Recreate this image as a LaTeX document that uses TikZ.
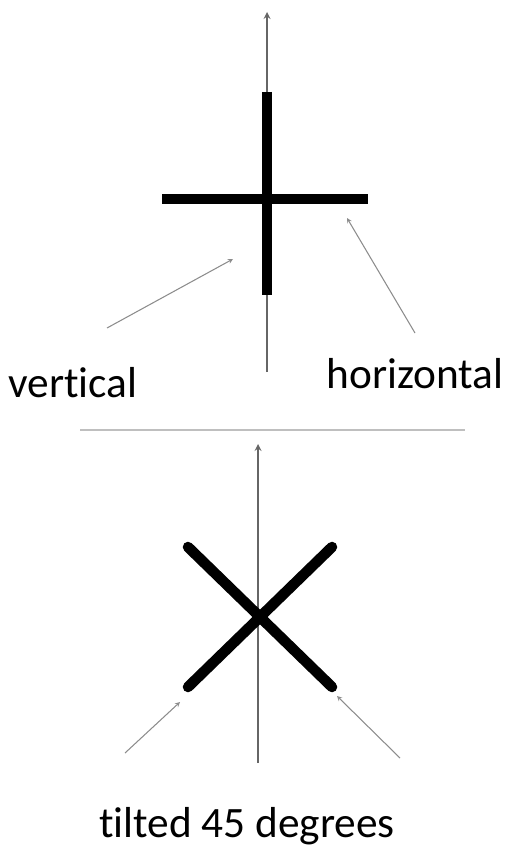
\documentclass[tikz,border=0pt]{standalone}
\usepackage{fontspec}
\setmainfont{Carlito}[Ligatures=NoCommon]
\begin{document}
\begin{tikzpicture}[
    x=0.03cm, y=-0.03cm,
    mybar/.style={line width=9pt, black},
    myaxis/.style={->, >=stealth, line width=1.6pt, black!60},
    myarrow/.style={->, >=stealth, line width=0.9pt, black!45},
    mylabel/.style={font=\fontsize{37}{42}\selectfont, inner sep=0pt},
]
\useasboundingbox (0,0) rectangle (512,848);

% upper cross
\coordinate (ua0) at (267,372);
\coordinate (ua1) at (267,12);
\coordinate (vt) at (267,92);
\coordinate (vb) at (267,295);
\coordinate (hl) at (162,199);
\coordinate (hr) at (368,199);
\draw[myaxis] (ua0) -- (ua1);
\draw[mybar] (vt) -- (vb);
\draw[mybar] (hl) -- (hr);

\node[mylabel] (vert) at (73,383) {vertical};
\node[mylabel] (horz) at (415,374) {horizontal};
\coordinate (vs) at (107,328);
\coordinate (ve) at (233,259);
\coordinate (hs) at (415,333);
\coordinate (he) at (347,218);
\draw[myarrow] (vs) -- (ve);
\draw[myarrow] (hs) -- (he);

% separator
\coordinate (sl) at (80,430);
\coordinate (sr) at (465,430);
\draw[line width=1.5pt, black!25] (sl) -- (sr);

% lower cross, tilted
\coordinate (la0) at (258,763);
\coordinate (la1) at (258,444);
\coordinate (d1a) at (188,547);
\coordinate (d1b) at (332,687);
\coordinate (d2a) at (332,547);
\coordinate (d2b) at (188,687);
\draw[myaxis] (la0) -- (la1);
\draw[mybar, line cap=round] (d1a) -- (d1b);
\draw[mybar, line cap=round] (d2a) -- (d2b);

\coordinate (ls) at (125,753);
\coordinate (le) at (180,702);
\coordinate (rs) at (400,758);
\coordinate (re) at (337,696);
\draw[myarrow] (ls) -- (le);
\draw[myarrow] (rs) -- (re);

\node[mylabel] (tilt) at (247,826) {tilted 45 degrees};
\end{tikzpicture}
\end{document}
